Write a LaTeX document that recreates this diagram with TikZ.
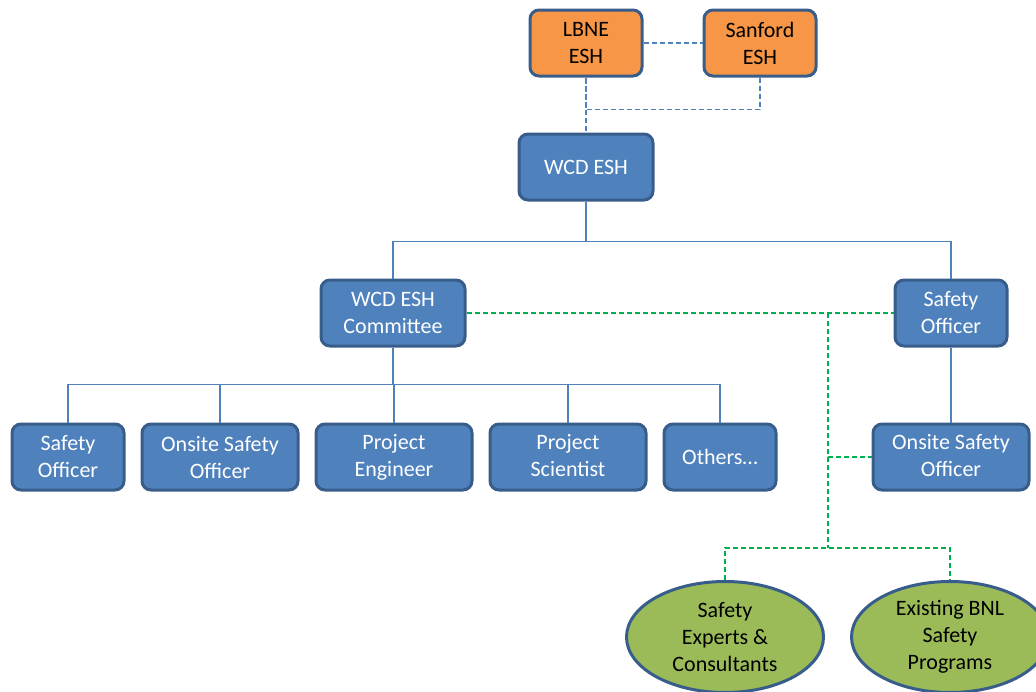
\documentclass[tikz,border=0pt]{standalone}
\usepackage{fontspec}
\setmainfont{Carlito}
\usetikzlibrary{positioning,shapes.geometric}
\definecolor{eshblue}{HTML}{4F81BD}
\definecolor{eshedge}{HTML}{385D8A}
\definecolor{eshorange}{HTML}{F79646}
\definecolor{eshgreen}{HTML}{9BBB59}
\definecolor{linkgreen}{HTML}{00B050}

\begin{document}
\begin{tikzpicture}[x=1pt,y=-1pt,node distance=55pt and 15pt,
 every node/.style={font=\fontsize{22}{27}\selectfont},
 unit/.style={draw=eshedge,line width=3pt,rounded corners=9pt,fill=eshblue,text=white,
  align=center,minimum width=112pt,minimum height=66pt,inner sep=2pt},
 lead/.style={unit,fill=eshorange,text=black},
 aid/.style={ellipse,draw=eshedge,line width=3pt,fill=eshgreen,align=center,
  minimum width=197pt,minimum height=111pt,inner sep=-6pt},
 tree/.style={eshblue,line width=1.3pt},
 link/.style={eshblue,line width=1.3pt,dash pattern=on 5pt off 3pt},
 help/.style={linkgreen,line width=1.3pt,dash pattern=on 5pt off 3pt}]
\useasboundingbox (0,0) rectangle (1036,691);
\node[lead] (lbne) at (586,43) {LBNE\\ESH};
\node[lead,right=59pt of lbne] (sanford) {Sanford\\ESH};
\node[unit,minimum width=134pt,below=of lbne] (wcd) {WCD ESH};
\node[unit,minimum width=144pt] (comm) at (393,313) {WCD ESH\\Committee};
\node[unit] (safety) at (951,313) {Safety\\Officer};
\node[unit] (so) at (68,457) {Safety\\Officer};
\node[unit,minimum width=156pt,right=of so] (onsite) {Onsite Safety\\Officer};
\node[unit,minimum width=156pt,right=of onsite] (eng) {Project\\Engineer\vphantom{f}};
\node[unit,minimum width=156pt,right=of eng] (sci) {Project\\Scientist\vphantom{g}};
\node[unit,right=of sci] (others) {Others\dots};
\node[unit,minimum width=156pt] (site) at (951,457) {Onsite Safety\\Officer\vphantom{g}};
\node[aid] (experts) at (725,637) {Safety\\Experts \&\\Consultants};
\node[aid,right=25pt of experts] (bnl) {Existing BNL\\Safety\\Programs};
\coordinate (split) at (828,548);
% reporting lines
\draw[link] (lbne) -- (sanford);
\draw[link] (sanford.south) -- ++(0,32) -| (lbne.south);
\draw[link] (lbne.south) -- (wcd.north);
\draw[tree] (wcd.south) -- ++(0,40) -| (comm.north);
\draw[tree] (wcd.south) ++(0,40) -| (safety.north);
\draw[tree] (comm.south) -- ++(0,37);
\foreach \n in {so,onsite,eng,sci,others}
 \draw[tree] (comm.south) ++(0,37) -| (\n.north);
\draw[tree] (safety) -- (site);
% safety support
\draw[help] (comm.east) -- (safety.west);
\draw[help] (split |- comm.east) -- (split);
\draw[help] (split |- site.west) -- (site.west);
\draw[help] (experts.north) |- (split) -| (bnl.north);
\end{tikzpicture}
\end{document}
